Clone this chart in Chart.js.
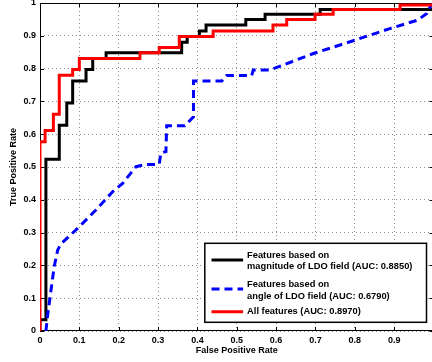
<!DOCTYPE html>
<html>
<head>
<meta charset="utf-8">
<script src="https://cdn.jsdelivr.net/npm/chart.js@4.4.1/dist/chart.umd.min.js"></script>
<style>
  html, body { margin: 0; padding: 0; overflow: hidden; background: #fff; }
  #wrap { width: 436px; height: 362px; }
</style>
</head>
<body>
<div id="wrap"><canvas id="rocChart" width="436" height="362"></canvas></div>
<script>
// ROC curves, values (x = false positive rate, y = true positive rate)
const magFpr = [0, 0, 0.015, 0.015, 0.049, 0.049, 0.068, 0.068, 0.083, 0.083, 0.117, 0.117, 0.134, 0.134, 0.168, 0.168,
    0.36, 0.36, 0.374, 0.374, 0.405, 0.405, 0.422, 0.422, 0.523, 0.523, 0.572, 0.572, 0.712, 0.712, 1];
const magTpr = [0, 0.034, 0.034, 0.524, 0.524, 0.627, 0.627, 0.695, 0.695, 0.762, 0.762, 0.797, 0.797, 0.831, 0.831, 0.848,
    0.848, 0.88, 0.88, 0.898, 0.898, 0.915, 0.915, 0.933, 0.933, 0.95, 0.95, 0.966, 0.966, 0.98, 0.98];

const angFpr = [0.015, 0.02, 0.028, 0.036, 0.045, 0.053, 0.075, 0.1, 0.142, 0.185, 0.21, 0.244, 0.27, 0.303, 0.307, 0.32,
    0.322, 0.368, 0.39, 0.39, 0.462, 0.474, 0.538, 0.542, 0.585, 0.695, 0.796, 0.889, 0.96, 0.983, 0.99, 1];
const angTpr = [0, 0.054, 0.125, 0.196, 0.247, 0.265, 0.29, 0.318, 0.369, 0.425, 0.45, 0.501, 0.508, 0.508, 0.542, 0.547,
    0.626, 0.626, 0.653, 0.762, 0.762, 0.779, 0.779, 0.796, 0.796, 0.846, 0.885, 0.922, 0.948, 0.968, 0.985, 1];

const allFpr = [0, 0, 0.013, 0.013, 0.034, 0.034, 0.049, 0.049, 0.083, 0.083, 0.1, 0.1, 0.254, 0.254, 0.303, 0.303,
    0.354, 0.354, 0.44, 0.44, 0.592, 0.592, 0.627, 0.627, 0.699, 0.699, 0.745, 0.745, 0.915, 0.915, 1];
const allTpr = [0, 0.577, 0.577, 0.611, 0.611, 0.661, 0.661, 0.78, 0.78, 0.797, 0.797, 0.831, 0.831, 0.848, 0.848, 0.864,
    0.864, 0.898, 0.898, 0.915, 0.915, 0.933, 0.933, 0.95, 0.95, 0.966, 0.966, 0.98, 0.98, 0.994, 0.994];

const seriesLabels = [
    ['Features based on', 'magnitude of LDO field (AUC: 0.8850)'],
    ['Features based on', 'angle of LDO field (AUC: 0.6790)'],
    ['All features (AUC: 0.8970)']
];

const FONT = '"Liberation Sans", Arial, Helvetica, sans-serif';

function toPoints(xs, ys) {
    return xs.map((v, i) => ({x: v, y: ys[i]}));
}

// MATLAB style box, inward tick marks and the legend
const matlabAxes = {
    id: 'matlabAxes',
    beforeDatasetsDraw(chart) {
        const {ctx, chartArea: a, scales: {x, y}} = chart;
        ctx.save();
        ctx.strokeStyle = '#000';
        ctx.lineWidth = 1;
        ctx.strokeRect(a.left + 0.5, a.top + 0.5, a.right - a.left, a.bottom - a.top - 1);
        ctx.beginPath();
        x.ticks.forEach(t => {
            const px = Math.round(x.getPixelForValue(t.value)) + 0.5;
            ctx.moveTo(px, a.bottom); ctx.lineTo(px, a.bottom - 4);
            ctx.moveTo(px, a.top); ctx.lineTo(px, a.top + 4);
        });
        y.ticks.forEach(t => {
            const py = Math.round(y.getPixelForValue(t.value)) + 0.5;
            ctx.moveTo(a.left, py); ctx.lineTo(a.left + 4, py);
            ctx.moveTo(a.right, py); ctx.lineTo(a.right - 4, py);
        });
        ctx.stroke();
        ctx.restore();
    },
    afterDatasetsDraw(chart) {
        const {ctx, chartArea: a} = chart;
        const w = 221.7, h = 79;
        const bx = a.right - 7 - w, by = a.bottom - 8.7 - h;
        ctx.save();
        ctx.fillStyle = '#fff';
        ctx.fillRect(bx, by, w, h);
        ctx.strokeStyle = '#000';
        ctx.lineWidth = 1.5;
        ctx.strokeRect(bx, by, w, h);

        const rows = [
            {line: 16.7, text: [11.7, 23.4]},
            {line: 45.7, text: [41, 53.4]},
            {line: 68.4, text: [68.2]}
        ];
        ctx.font = 'bold 9.3px ' + FONT;
        ctx.textBaseline = 'middle';
        ctx.textAlign = 'left';
        ctx.fillStyle = '#000';
        chart.data.datasets.forEach((ds, i) => {
            const r = rows[i];
            ctx.beginPath();
            ctx.strokeStyle = ds.borderColor;
            ctx.lineWidth = ds.borderWidth;
            ctx.setLineDash(ds.borderDash || []);
            ctx.moveTo(bx + 6.7, by + r.line);
            ctx.lineTo(bx + 38.3, by + r.line);
            ctx.stroke();
            ctx.setLineDash([]);
            seriesLabels[i].forEach((txt, k) => ctx.fillText(txt, bx + 42.3, by + r.text[k]));
        });
        ctx.restore();
    }
};

const ctx = document.getElementById('rocChart').getContext('2d');
const rocChart = new Chart(ctx, {
    type: 'line',
    data: {
        datasets: [{
            label: seriesLabels[0].join(' '),
            data: toPoints(magFpr, magTpr),
            borderColor: '#000000',
            borderWidth: 3,
            order: 2
        }, {
            label: seriesLabels[1].join(' '),
            data: toPoints(angFpr, angTpr),
            borderColor: '#0000ff',
            borderWidth: 3,
            borderDash: [8, 5],
            order: 1
        }, {
            label: seriesLabels[2].join(' '),
            data: toPoints(allFpr, allTpr),
            borderColor: '#ff0000',
            borderWidth: 3,
            order: 0
        }]
    },
    options: {
        responsive: false,
        animation: false,
        events: [],
        elements: {
            point: {radius: 0},
            line: {tension: 0, borderCapStyle: 'butt', borderJoinStyle: 'miter'}
        },
        layout: {padding: {top: 3, right: 2.5, left: 0, bottom: 0}},
        plugins: {
            legend: {display: false},
            tooltip: {enabled: false}
        },
        scales: {
            x: {
                type: 'linear',
                min: 0,
                max: 1,
                grid: {color: '#8a8a8a', lineWidth: 1, drawTicks: false},
                border: {display: false, dash: [1, 3]},
                ticks: {
                    stepSize: 0.1,
                    padding: 4,
                    color: '#000',
                    font: {family: FONT, size: 9, weight: 'bold'},
                    maxRotation: 0,
                    callback: v => v >= 1 ? '' : Number(v.toFixed(1)).toString()
                },
                title: {
                    display: true,
                    text: 'False Positive Rate',
                    color: '#000',
                    font: {family: FONT, size: 9, weight: 'bold'},
                    padding: {top: 0, bottom: 6}
                },
                afterFit: s => { s.height = 31; s.paddingLeft = 0; s.paddingRight = 0; }
            },
            y: {
                type: 'linear',
                min: 0,
                max: 1,
                grid: {color: '#8a8a8a', lineWidth: 1, drawTicks: false},
                border: {display: false, dash: [1, 3]},
                ticks: {
                    stepSize: 0.1,
                    padding: 4,
                    color: '#000',
                    font: {family: FONT, size: 9, weight: 'bold'},
                    callback: v => Number(v.toFixed(1)).toString()
                },
                title: {
                    display: true,
                    text: 'True Positive Rate',
                    color: '#000',
                    font: {family: FONT, size: 9, weight: 'bold'},
                    padding: {top: 8, bottom: 0}
                },
                afterFit: s => { s.width = 40; s.paddingTop = 0; s.paddingBottom = 0; }
            }
        }
    },
    plugins: [matlabAxes]
});
</script>
</body>
</html>
